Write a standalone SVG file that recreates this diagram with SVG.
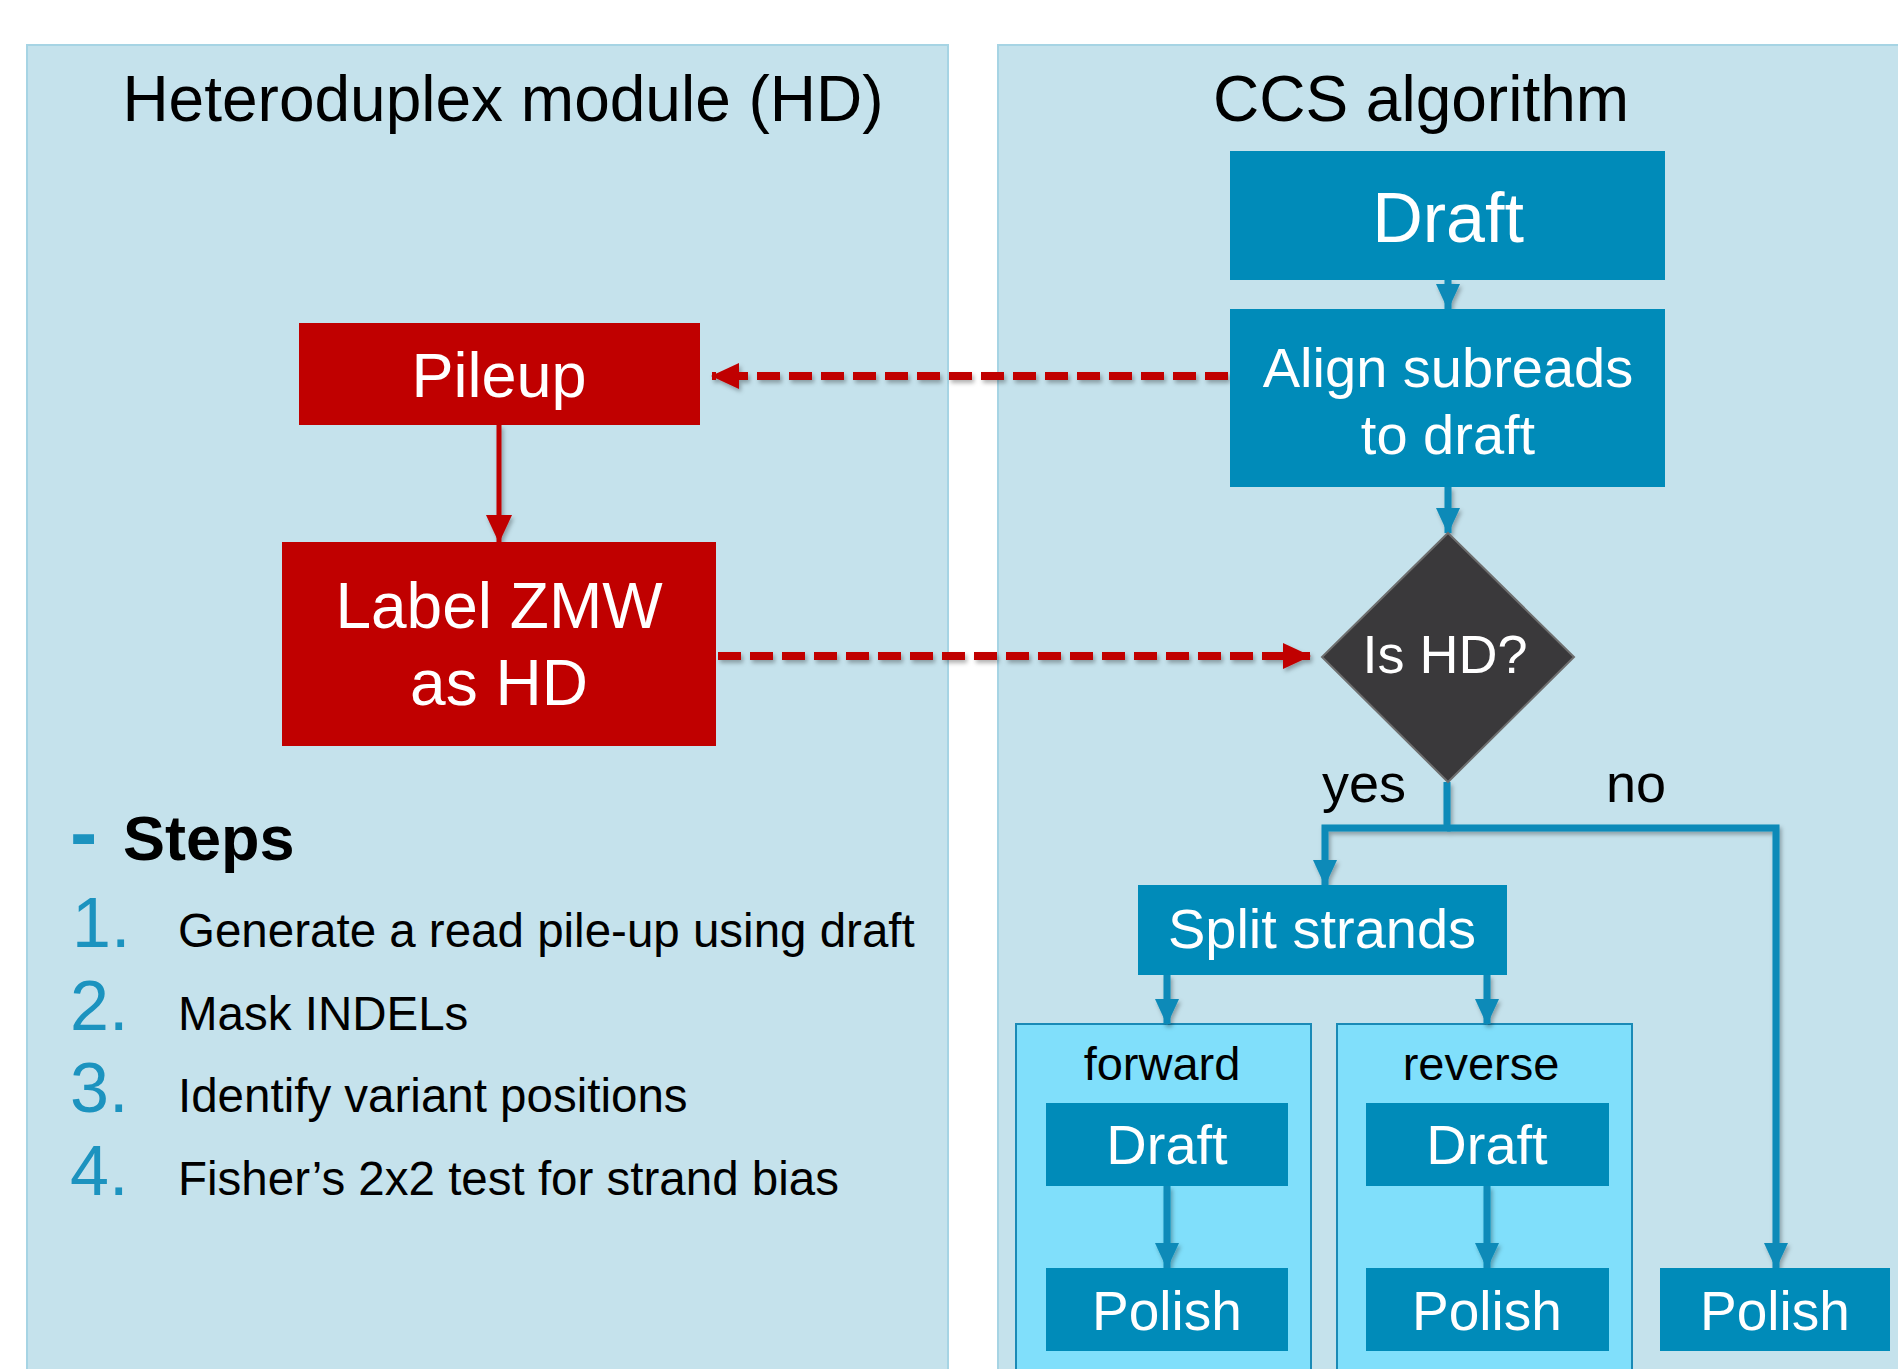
<svg xmlns="http://www.w3.org/2000/svg" width="1898" height="1369" viewBox="0 0 1898 1369">
  <style>
    .panel { fill: #c5e2ec; stroke: #a6d4e4; stroke-width: 2; }
    .sub { fill: #80dffb; stroke: #1a8ab6; stroke-width: 2; }
    .blue { fill: #008bb9; }
    .red { fill: #c00000; }
    .title { font-family: "Liberation Sans", Arial, sans-serif; font-size: 64px; fill: #000; text-anchor: middle; }
    .wt { font-family: "Liberation Sans", Arial, sans-serif; fill: #fff; text-anchor: middle; }
    .lbl { font-family: "Liberation Sans", Arial, sans-serif; fill: #000; }
    .num { font-family: "Liberation Sans", Arial, sans-serif; font-size: 70px; fill: #1c93bf; }
    .item { font-family: "Liberation Sans", Arial, sans-serif; font-size: 47.5px; fill: #000; }
    .cb { fill: none; stroke: #0a8ab8; stroke-width: 7; }
    .cr { fill: none; stroke: #c00000; stroke-width: 5; }
    .cd { fill: none; stroke: #c00000; stroke-width: 8; stroke-dasharray: 23 9; }
  </style>
  <defs>
    <filter id="shadow" x="-20%" y="-20%" width="140%" height="140%">
      <feDropShadow dx="2" dy="3" stdDeviation="2" flood-color="#000" flood-opacity="0.3"/>
    </filter>
    <marker id="ah-red" markerUnits="userSpaceOnUse" markerWidth="28" markerHeight="26" refX="27" refY="13" orient="auto" viewBox="0 0 28 26">
      <path d="M0,0 L28,13 L0,26 Z" fill="#c00000"/>
    </marker>
    <marker id="ah-b" markerUnits="userSpaceOnUse" markerWidth="26" markerHeight="24" refX="25" refY="12" orient="auto" viewBox="0 0 26 24">
      <path d="M0,0 L26,12 L0,24 Z" fill="#0a8ab8"/>
    </marker>
  </defs>

  <rect width="1898" height="1369" fill="#ffffff"/>

  <!-- swimlanes -->
  <g id="lane-hd">
    <rect class="panel" x="27" y="45" width="921" height="1340"/>
    <text class="title" x="503" y="121">Heteroduplex module (HD)</text>
  </g>
  <g id="lane-ccs">
    <rect class="panel" x="998" y="45" width="920" height="1340"/>
    <text class="title" x="1421" y="121">CCS algorithm</text>
  </g>

  <!-- strand containers -->
  <g id="forward">
    <rect class="sub" x="1016" y="1024" width="295" height="360"/>
    <text class="lbl" x="1162" y="1080" font-size="47" text-anchor="middle" fill="#1a1a1a">forward</text>
  </g>
  <g id="reverse">
    <rect class="sub" x="1337" y="1024" width="295" height="360"/>
    <text class="lbl" x="1481" y="1080" font-size="47" text-anchor="middle" fill="#1a1a1a">reverse</text>
  </g>

  <!-- connectors -->
  <g id="connectors" filter="url(#shadow)">
    <path class="cb" d="M1448,280 V309" marker-end="url(#ah-b)"/>
    <path class="cb" d="M1448,487 V533" marker-end="url(#ah-b)"/>
    <path class="cb" d="M1447,782 V828 H1325 V885" marker-end="url(#ah-b)"/>
    <path class="cb" d="M1447,828 H1776 V1268" marker-end="url(#ah-b)"/>
    <path class="cb" d="M1167,975 V1024" marker-end="url(#ah-b)"/>
    <path class="cb" d="M1487,975 V1024" marker-end="url(#ah-b)"/>
    <path class="cb" d="M1167,1186 V1268" marker-end="url(#ah-b)"/>
    <path class="cb" d="M1487,1186 V1268" marker-end="url(#ah-b)"/>
    <path class="cr" d="M499,425 V542" marker-end="url(#ah-red)"/>
    <path class="cd" d="M1228,376 H712" marker-end="url(#ah-red)"/>
    <path class="cd" d="M718,656 H1310" marker-end="url(#ah-red)"/>
  </g>

  <!-- CCS nodes -->
  <g id="draft">
    <rect class="blue" x="1230" y="151" width="435" height="129"/>
    <text class="wt" x="1448" y="242" font-size="70">Draft</text>
  </g>
  <g id="align">
    <rect class="blue" x="1230" y="309" width="435" height="178"/>
    <text class="wt" x="1448" y="387" font-size="56">Align subreads</text>
    <text class="wt" x="1448" y="454" font-size="56">to draft</text>
  </g>
  <g id="is-hd">
    <polygon points="1448,533 1574,657 1448,782 1322,657" fill="#3a393b" stroke="#6e6e6e" stroke-width="2"/>
    <text class="wt" x="1445" y="673" font-size="54">Is HD?</text>
  </g>
  <g id="edge-labels">
    <text class="lbl" x="1322" y="802" font-size="54">yes</text>
    <text class="lbl" x="1606" y="802" font-size="54">no</text>
  </g>
  <g id="split">
    <rect class="blue" x="1138" y="885" width="369" height="90"/>
    <text class="wt" x="1322" y="948" font-size="56">Split strands</text>
  </g>
  <g id="fwd-draft">
    <rect class="blue" x="1046" y="1103" width="242" height="83"/>
    <text class="wt" x="1167" y="1164" font-size="56">Draft</text>
  </g>
  <g id="fwd-polish">
    <rect class="blue" x="1046" y="1268" width="242" height="83"/>
    <text class="wt" x="1167" y="1330" font-size="55">Polish</text>
  </g>
  <g id="rev-draft">
    <rect class="blue" x="1366" y="1103" width="243" height="83"/>
    <text class="wt" x="1487" y="1164" font-size="56">Draft</text>
  </g>
  <g id="rev-polish">
    <rect class="blue" x="1366" y="1268" width="243" height="83"/>
    <text class="wt" x="1487" y="1330" font-size="55">Polish</text>
  </g>
  <g id="polish">
    <rect class="blue" x="1660" y="1268" width="230" height="83"/>
    <text class="wt" x="1775" y="1330" font-size="55">Polish</text>
  </g>

  <!-- HD nodes -->
  <g id="pileup">
    <rect class="red" x="299" y="323" width="401" height="102"/>
    <text class="wt" x="499" y="397" font-size="63">Pileup</text>
  </g>
  <g id="label-zmw">
    <rect class="red" x="282" y="542" width="434" height="204"/>
    <text class="wt" x="499" y="628" font-size="64">Label ZMW</text>
    <text class="wt" x="499" y="705" font-size="64">as HD</text>
  </g>

  <!-- step list -->
  <g id="steps">
    <text x="70" y="860" font-family="Liberation Sans, Arial, sans-serif" font-size="82" font-weight="bold" fill="#1c93bf">-</text>
    <text x="123" y="860" font-family="Liberation Sans, Arial, sans-serif" font-size="63" font-weight="bold" fill="#000">Steps</text>
    <text class="num" x="72" y="947">1.</text>
    <text class="item" x="178" y="947">Generate a read pile-up using draft</text>
    <text class="num" x="70" y="1030">2.</text>
    <text class="item" x="178" y="1030">Mask INDELs</text>
    <text class="num" x="70" y="1112">3.</text>
    <text class="item" x="178" y="1112">Identify variant positions</text>
    <text class="num" x="70" y="1195">4.</text>
    <text class="item" x="178" y="1195">Fisher’s 2x2 test for strand bias</text>
  </g>
</svg>
